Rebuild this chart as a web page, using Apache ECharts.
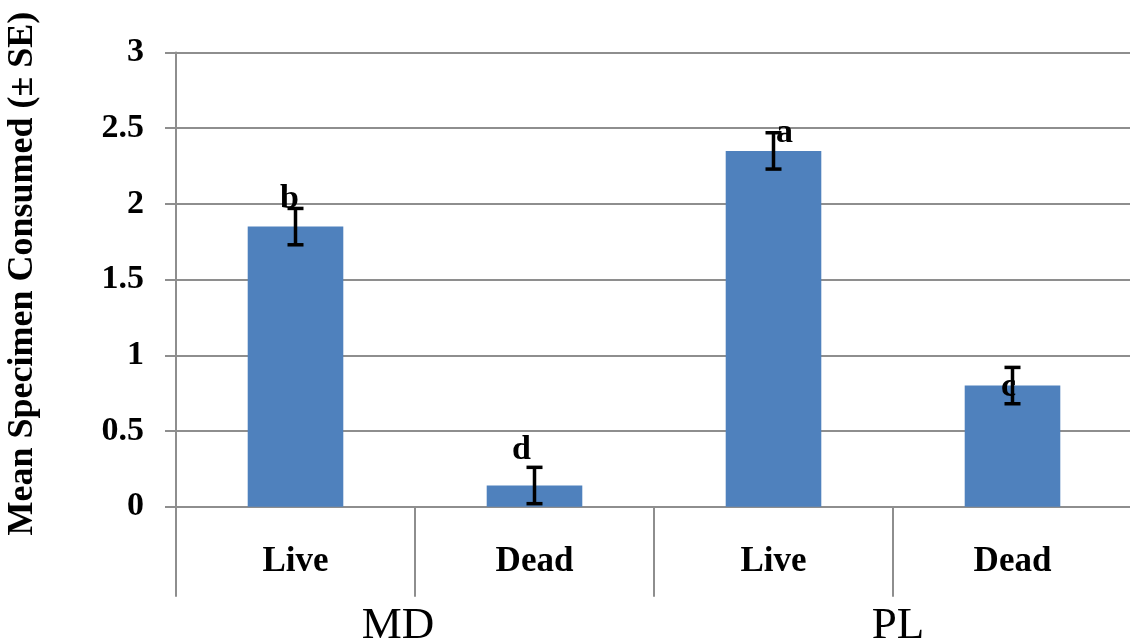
<!DOCTYPE html>
<html>
<head>
<meta charset="utf-8">
<script src="https://cdn.jsdelivr.net/npm/echarts@6/dist/echarts.min.js"></script>
<style>
html,body{margin:0;padding:0;background:#fff;}
#chart{width:1130px;height:640px;}
</style>
</head>
<body>
<div id="chart"></div>
<script>
// ---- data ----
const categories = ['Live', 'Dead', 'Live', 'Dead'];
const groups = ['MD', 'PL'];
const means = [1.85, 0.14, 2.35, 0.80];
const se = [0.12, 0.12, 0.12, 0.12];
const letters = ['b', 'd', 'a', 'c'];
const letterHeights = [2.03, 0.37, 2.47, 0.79];
const yTicks = [0, 0.5, 1, 1.5, 2, 2.5, 3];

// ---- styles ----
const letterOffsets = [-6, -13, 11, -4];
const groupPadding = [[0, 34, 0, 0], [0, 0, 0, 10]];
const serif = '"Liberation Serif", "Times New Roman", serif';
const gray = '#8e8e8e';

const errData = means.map((m, i) => [i, m - se[i], m + se[i]]);
const letterData = letterHeights.map((v, i) => [i, v]);

const chart = echarts.init(document.getElementById('chart'));
chart.setOption({
  backgroundColor: '#fff',
  animation: false,
  grid: { left: 176, right: -2, top: 52.5, bottom: 133.3, containLabel: false, outerBoundsMode: 'none' },
  xAxis: [
    {
      type: 'category',
      data: categories,
      position: 'bottom',
      axisLine: { show: true, lineStyle: { color: gray, width: 2 } },
      axisTick: { show: true, length: 90, lineStyle: { color: gray, width: 2 } },
      axisLabel: { margin: 38, fontFamily: serif, fontWeight: 'bold', fontSize: 35, color: '#000' },
      splitLine: { show: false }
    },
    {
      type: 'category',
      data: groups.map((g, i) => ({ value: g, textStyle: { padding: groupPadding[i] } })),
      position: 'bottom',
      axisLine: { show: false },
      axisTick: { show: false },
      axisLabel: { margin: 97, fontFamily: serif, fontSize: 45, color: '#000' },
      splitLine: { show: false }
    }
  ],
  yAxis: {
    type: 'value',
    min: yTicks[0],
    max: yTicks[yTicks.length - 1],
    interval: 0.5,
    name: 'Mean Specimen Consumed (± SE)',
    nameLocation: 'middle',
    nameGap: 135,
    nameTextStyle: { fontFamily: serif, fontWeight: 'bold', fontSize: 36, color: '#000', padding: [0, 0, 0, 12] },
    axisLine: { show: true, lineStyle: { color: gray, width: 2 } },
    axisTick: { show: true, length: 11, lineStyle: { color: gray, width: 2 } },
    axisLabel: { margin: 32, fontFamily: serif, fontWeight: 'bold', fontSize: 34, color: '#000' },
    splitLine: { show: true, lineStyle: { color: gray, width: 2 } }
  },
  series: [
    {
      type: 'bar',
      data: means,
      barWidth: '40%',
      itemStyle: { color: '#4f81bd' },
      z: 2
    },
    {
      type: 'custom',
      data: errData,
      z: 3,
      renderItem: function (params, api) {
        const lo = api.coord([api.value(0), api.value(1)]);
        const hi = api.coord([api.value(0), api.value(2)]);
        const h = 8;
        const st = { stroke: '#000', lineWidth: 3.5 };
        return {
          type: 'group',
          children: [
            { type: 'line', shape: { x1: lo[0], y1: lo[1], x2: hi[0], y2: hi[1] }, style: st },
            { type: 'line', shape: { x1: lo[0] - h, y1: lo[1], x2: lo[0] + h, y2: lo[1] }, style: st },
            { type: 'line', shape: { x1: hi[0] - h, y1: hi[1], x2: hi[0] + h, y2: hi[1] }, style: st }
          ]
        };
      }
    },
    {
      type: 'custom',
      data: letterData,
      z: 5,
      renderItem: function (params, api) {
        const p = api.coord([api.value(0), api.value(1)]);
        return {
          type: 'text',
          x: p[0] + letterOffsets[params.dataIndex],
          y: p[1],
          style: {
            text: letters[params.dataIndex],
            fontFamily: serif,
            fontWeight: 'bold',
            fontSize: 34,
            fill: '#000',
            align: 'center',
            verticalAlign: 'middle'
          }
        };
      }
    }
  ]
});
</script>
</body>
</html>
